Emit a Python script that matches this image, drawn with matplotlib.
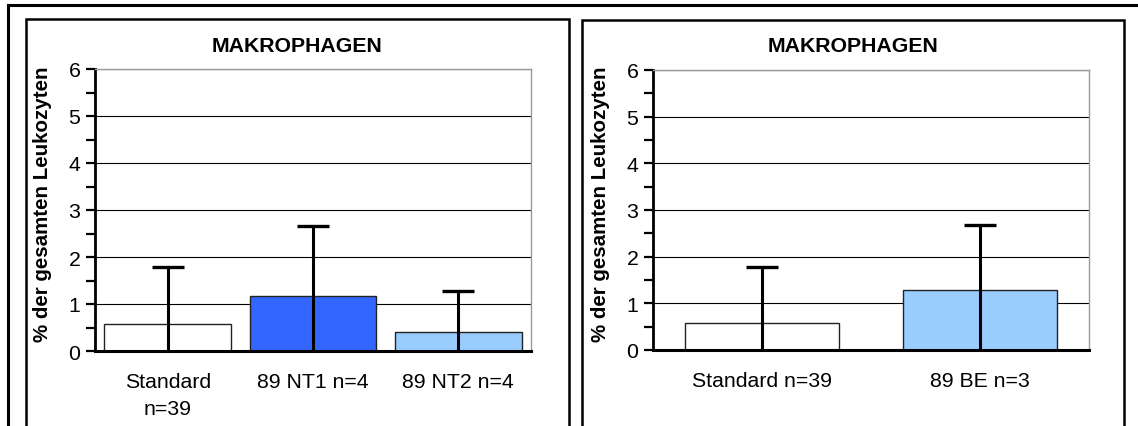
import matplotlib.pyplot as plt
from matplotlib.patches import Rectangle
from matplotlib.lines import Line2D
from matplotlib.ticker import MultipleLocator

plt.rcParams['font.family'] = ['Liberation Sans', 'DejaVu Sans']

W, H = 1138, 427

# ---- data ----
title = "MAKROPHAGEN"
ylabel = "% der gesamten Leukozyten"

labels_nt = ["Standard\nn=39", "89 NT1 n=4", "89 NT2 n=4"]
means_nt = [0.58, 1.16, 0.41]
sd_nt = [1.2, 1.5, 0.86]
colors_nt = ["white", "#3366FF", "#99CCFF"]

labels_be = ["Standard n=39", "89 BE n=3"]
means_be = [0.58, 1.28]
sd_be = [1.2, 1.4]
colors_be = ["white", "#99CCFF"]


def px(x, y):
    return x / W, 1 - y / H


fig = plt.figure(figsize=(W / 100, H / 100), dpi=100)

# outer frame (top and left edge only)
fig.add_artist(Line2D([8 / W, 1.0], [1 - 6 / H] * 2, color="black", lw=2.2,
                      transform=fig.transFigure))
fig.add_artist(Line2D([8 / W] * 2, [1 - 6 / H, 0.0], color="black", lw=2.2,
                      transform=fig.transFigure))

# chart area borders
for x0, x1, y0 in [(26, 569, 20), (582, 1124, 21)]:
    fig.add_artist(Rectangle(px(x0, H + 10), (x1 - x0) / W, (H + 10 - y0) / H,
                             fill=False, ec="black", lw=1.8,
                             transform=fig.transFigure))

FS = 15.3


def draw_chart(ax, labels, means, sds, colors, width):
    x = list(range(len(labels)))
    ax.bar(x, means, width=width, color=colors, edgecolor="#222222",
           linewidth=1.0, zorder=2)
    ax.errorbar(x, means, yerr=sds, fmt="none", ecolor="black",
                elinewidth=2.2, capsize=11.5, capthick=2.4, zorder=3)
    ax.set_xlim(-0.5, len(labels) - 0.5)
    ax.set_ylim(0, 6)
    ax.yaxis.set_major_locator(MultipleLocator(1))
    ax.yaxis.set_minor_locator(MultipleLocator(0.5))
    ax.set_xticks(x)
    ax.set_xticklabels(labels, fontsize=FS, linespacing=1.55)
    ax.tick_params(axis="x", length=0, pad=15)
    ax.tick_params(axis="y", which="both", direction="out", length=6.5,
                   width=1.6, labelsize=FS, pad=4)
    ax.grid(axis="y", color="black", lw=0.8)
    ax.set_axisbelow(True)
    for side in ("top", "right"):
        ax.spines[side].set_color("#9a9a9a")
        ax.spines[side].set_linewidth(1.0)
    ax.spines["left"].set_linewidth(2.0)
    ax.spines["bottom"].set_linewidth(2.2)


ax1 = fig.add_axes([95 / W, 1 - 352 / H, 436 / W, 282 / H])
draw_chart(ax1, labels_nt, means_nt, sd_nt, colors_nt, 0.87)

ax2 = fig.add_axes([653 / W, 1 - 351 / H, 436 / W, 280 / H])
draw_chart(ax2, labels_be, means_be, sd_be, colors_be, 0.71)

# titles and y-axis labels, centred on each chart area
for cx, lx, ly in [(297.5, 43, 204), (853, 600, 204)]:
    fig.text(*px(cx, 47), title, ha="center", va="center",
             fontsize=FS, fontweight="bold")
    fig.text(*px(lx, ly), ylabel, ha="center", va="center", rotation=90,
             fontsize=14.8, fontweight="bold")

fig.savefig("out.png", dpi=100)
